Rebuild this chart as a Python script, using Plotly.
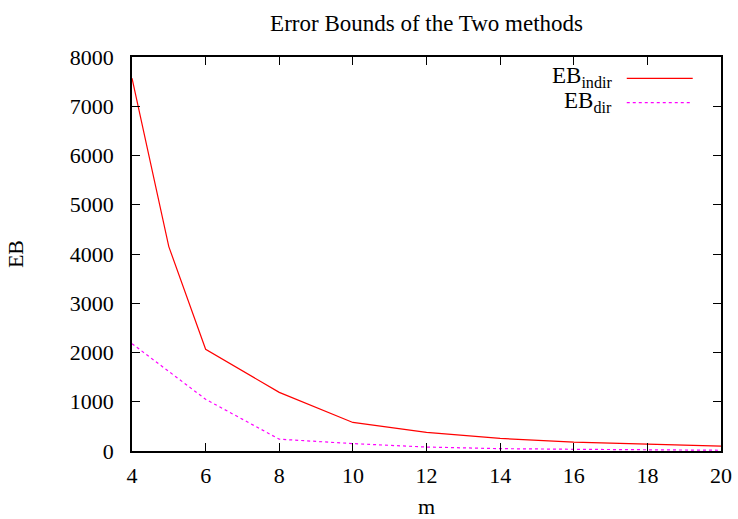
import plotly.graph_objects as go

# Error bound of each method as a function of m
m_indir = [4, 5, 6, 8, 10, 12, 14, 15, 16, 18, 20]
eb_indir = [7570, 4150, 2065, 1190, 580, 380, 255, 220, 180, 138, 100]

m_dir = [4, 6, 8, 10, 12, 14, 16, 18, 20]
eb_dir = [2180, 1050, 240, 150, 80, 48, 35, 25, 15]

x_ticks = list(range(4, 21, 2))
y_ticks = list(range(0, 8001, 1000))

FONT = "Liberation Serif"
FS = 22

fig = go.Figure()
fig.add_trace(go.Scatter(x=m_indir, y=eb_indir, mode="lines",
                         line=dict(color="#ff0000", width=1.2),
                         name="EB<sub>indir</sub>", showlegend=False))
fig.add_trace(go.Scatter(x=m_dir, y=eb_dir, mode="lines",
                         line=dict(color="#ff00ff", width=1.2, dash="dot"),
                         name="EB<sub>dir</sub>", showlegend=False))

# gnuplot-style key: label on the left, line sample on the right
key = [("EB<sub>indir</sub>", "#ff0000", "solid", 0.946),
       ("EB<sub>dir</sub>", "#ff00ff", "dot", 0.884)]
annotations = []
shapes = []
for label, color, dash, yk in key:
    annotations.append(dict(text=label, xref="paper", yref="paper",
                            x=0.819, y=yk + 0.002, xanchor="right", yanchor="middle",
                            showarrow=False,
                            font=dict(family=FONT, size=23, color="black")))
    shapes.append(dict(type="line", xref="paper", yref="paper",
                       x0=0.840, x1=0.952, y0=yk, y1=yk,
                       line=dict(color=color, width=1.2, dash=dash)))

axis_common = dict(showline=True, linecolor="black", linewidth=1.5, mirror="ticks",
                   ticks="inside", ticklen=8, tickcolor="black", tickwidth=1,
                   showgrid=False, zeroline=False, automargin=False,
                   tickfont=dict(family=FONT, size=FS, color="black"))

fig.update_layout(
    width=738, height=519,
    margin=dict(l=132, r=17, t=57, b=68),
    paper_bgcolor="white", plot_bgcolor="white",
    title=dict(text="Error Bounds of the Two methods", x=0.578, xanchor="center",
               y=0.955, yanchor="middle",
               font=dict(family=FONT, size=23, color="black")),
    xaxis=dict(range=[4, 20], tickvals=x_ticks, ticklabelstandoff=4,
               title=dict(text="m", font=dict(family=FONT, size=FS, color="black"),
                          standoff=28),
               **axis_common),
    yaxis=dict(range=[0, 8000], tickvals=y_ticks, ticklabelstandoff=12,
               title=dict(text="EB", font=dict(family=FONT, size=FS, color="black"),
                          standoff=40),
               **axis_common),
    annotations=annotations,
    shapes=shapes,
)

fig.write_html("out.html")
